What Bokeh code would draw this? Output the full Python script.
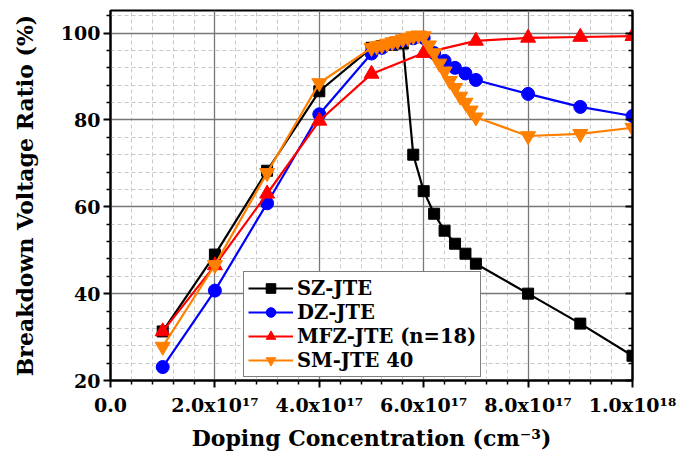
from bokeh.plotting import figure
from bokeh.models import FixedTicker, LinearAxis, Legend, LegendItem, Range1d
from bokeh.embed import file_html
from bokeh.resources import INLINE

# doping concentration in units of 1e17 cm^-3
sz_x = [1, 2, 3, 4, 5, 5.2, 5.4, 5.6, 5.8, 6.0, 6.2, 6.4, 6.6, 6.8, 7.0, 8, 9, 10]
sz_y = [31.3, 49.0, 68.3, 86.6, 96.6, 97.0, 97.3, 97.6, 72.0, 63.6, 58.4, 54.5, 51.5, 49.2, 46.9, 40.0, 33.1, 25.7]

dz_x = [1, 2, 3, 4, 5, 5.2, 5.4, 5.6, 5.8, 6.0, 6.2, 6.4, 6.6, 6.8, 7.0, 8, 9, 10]
dz_y = [23.1, 40.7, 60.8, 81.3, 95.3, 96.6, 97.6, 98.3, 98.8, 98.9, 95.4, 93.6, 92.0, 90.7, 89.2, 86.0, 83.0, 80.9]

mfz_x = [1, 2, 3, 4, 5, 6, 7, 8, 9, 10]
mfz_y = [31.3, 46.5, 63.0, 79.8, 90.6, 95.4, 98.2, 98.9, 99.1, 99.3]

sm_x = [1, 2, 3, 4, 5, 5.1, 5.2, 5.3, 5.4, 5.5, 5.6, 5.7, 5.8, 5.9, 6.0,
        6.1, 6.2, 6.3, 6.4, 6.5, 6.6, 6.7, 6.8, 6.9, 7.0, 8, 9, 10]
sm_y = [27.8, 46.6, 67.8, 88.5, 96.6, 97.0, 97.2, 97.6, 97.9, 98.2, 98.6, 98.9, 99.3, 99.5, 99.3,
        97.2, 95.4, 93.0, 91.2, 89.0, 87.4, 85.4, 84.0, 82.2, 80.6, 76.3, 76.8, 78.2]

x_ticks = [0, 2, 4, 6, 8, 10]
x_tick_labels = ["0.0", "2.0x10\u00b9\u2077", "4.0x10\u00b9\u2077", "6.0x10\u00b9\u2077",
                 "8.0x10\u00b9\u2077", "1.0x10\u00b9\u2078"]
x_minor = [0.4, 0.8, 1.2, 1.6, 2.4, 2.8, 3.2, 3.6, 4.4, 4.8, 5.2, 5.6,
           6.4, 6.8, 7.2, 7.6, 8.4, 8.8, 9.2, 9.6]
y_ticks = [20, 40, 60, 80, 100]
y_minor = [24, 28, 32, 36, 44, 48, 52, 56, 64, 68, 72, 76, 84, 88, 92, 96, 104]

FONT = "DejaVu Serif"

p = figure(width=689, height=472, output_backend="svg", toolbar_location=None,
           x_range=Range1d(0, 10), y_range=Range1d(20, 105.2),
           min_border_left=110, min_border_right=57, min_border_top=10, min_border_bottom=92,
           background_fill_color="white", border_fill_color="white")

p.outline_line_color = "black"
p.outline_line_width = 2
p.outline_line_alpha = 1

p.xaxis.ticker = FixedTicker(ticks=x_ticks, minor_ticks=x_minor)
p.yaxis.ticker = FixedTicker(ticks=y_ticks, minor_ticks=y_minor)
p.xaxis.major_label_overrides = {t: l for t, l in zip(x_ticks, x_tick_labels)}

for ax in (p.xaxis[0], p.yaxis[0]):
    ax.axis_line_color = "black"
    ax.axis_line_width = 2
    ax.major_tick_line_color = "black"
    ax.major_tick_line_width = 2
    ax.minor_tick_line_color = "black"
    ax.minor_tick_line_width = 1.5
    ax.major_tick_out = 7
    ax.major_tick_in = 0
    ax.minor_tick_out = 4
    ax.minor_tick_in = 0
    ax.major_label_text_font = FONT
    ax.major_label_text_font_style = "bold"
    ax.major_label_text_font_size = "19px"
    ax.major_label_text_color = "black"
    ax.axis_label_text_font = FONT
    ax.axis_label_text_font_style = "bold"
    ax.axis_label_text_font_size = "22px"
    ax.axis_label_text_color = "black"

p.xaxis.axis_label = "Doping Concentration (cm\u207b\u00b3)"
p.yaxis.axis_label = "Breakdown Voltage Ratio (%)"
p.xaxis.major_label_standoff = 6
p.yaxis.major_label_standoff = 3
p.xaxis.axis_label_standoff = 6
p.yaxis.axis_label_standoff = 20

right = LinearAxis(ticker=FixedTicker(ticks=y_ticks, minor_ticks=y_minor),
                   major_label_text_color=None, axis_line_color="black", axis_line_width=2,
                   major_tick_in=7, major_tick_out=0, minor_tick_in=4, minor_tick_out=0,
                   major_tick_line_width=2, minor_tick_line_width=1.5)
p.add_layout(right, "right")

p.xgrid.grid_line_color = "#777777"
p.ygrid.grid_line_color = "#777777"
p.xgrid.grid_line_width = 1.3
p.ygrid.grid_line_width = 1.3
p.xgrid.minor_grid_line_color = "#c8c8c8"
p.ygrid.minor_grid_line_color = "#c8c8c8"
p.xgrid.minor_grid_line_dash = "4 3"
p.ygrid.minor_grid_line_dash = "4 3"

series = [
    ("SZ-JTE", sz_x, sz_y, "black", "square", 11),
    ("DZ-JTE", dz_x, dz_y, "#0000ff", "circle", 13),
    ("MFZ-JTE (n=18)", mfz_x, mfz_y, "#ff0000", "triangle", 15),
    ("SM-JTE 40", sm_x, sm_y, "#ff8000", "inverted_triangle", 15),
]

items = []
for label, xs, ys, color, marker, size in series:
    l = p.line(xs, ys, line_color=color, line_width=2.2)
    s = p.scatter(xs, ys, marker=marker, size=size, fill_color=color, line_color=color)
    items.append(LegendItem(label=label, renderers=[l, s]))

legend = Legend(items=items, location=(133, 3))
legend.border_line_color = "black"
legend.border_line_width = 1.5
legend.background_fill_color = "white"
legend.background_fill_alpha = 1
legend.label_text_font = FONT
legend.label_text_font_style = "bold"
legend.label_text_font_size = "19.5px"
legend.label_text_color = "black"
legend.glyph_width = 45
legend.glyph_height = 24
legend.label_height = 24
legend.label_standoff = 4
legend.spacing = 0
legend.padding = 4
legend.margin = 0
p.add_layout(legend)

open("out.html", "w").write(file_html(p, INLINE))
